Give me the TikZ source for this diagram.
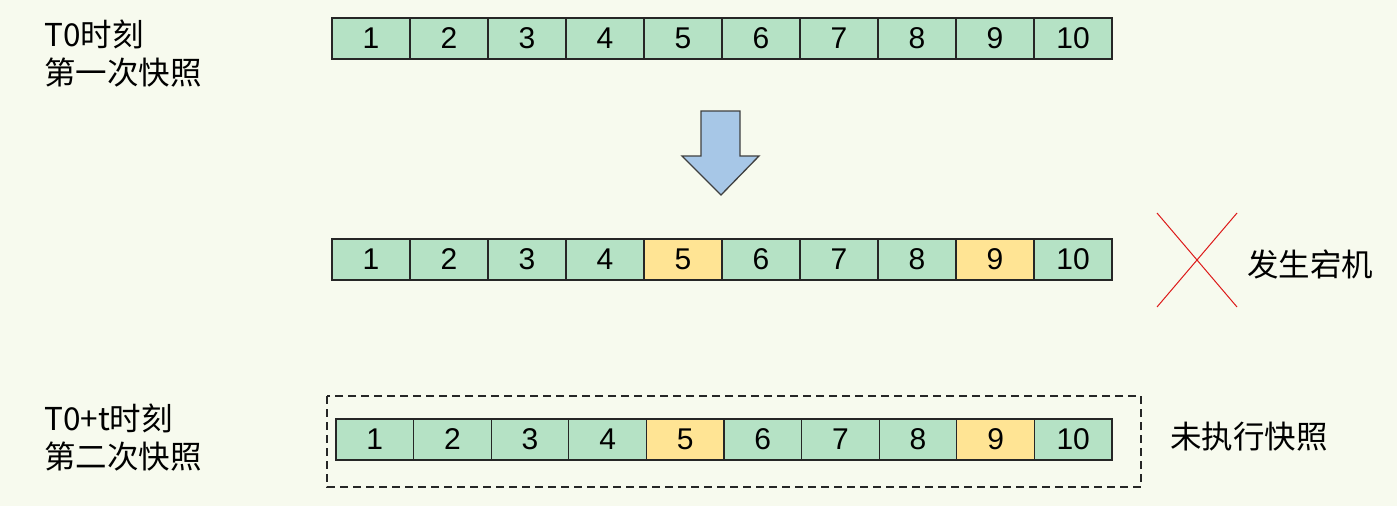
\documentclass[tikz,border=0pt]{standalone}
\usepackage{fontspec}
\setmainfont{Noto Sans CJK SC}
\newfontfamily\digitfont{Liberation Sans}
\begin{document}
\begin{tikzpicture}[x=1pt,y=-1pt,
  cell/.style={draw=black!85, line width=1.3pt, minimum width=78pt, minimum height=41pt,
    inner sep=0pt, outer sep=0pt, anchor=west, font=\digitfont\fontsize{30}{30}\selectfont},
  g/.style={cell, fill=cellgreen},
  yl/.style={cell, fill=cellyellow},
  lbl/.style={font=\fontsize{31.5}{38}\selectfont, align=left, inner sep=0pt, anchor=west}]
\definecolor{bg}{RGB}{247,250,238}
\definecolor{cellgreen}{RGB}{181,226,197}
\definecolor{cellyellow}{RGB}{255,228,148}
\definecolor{arrowblue}{RGB}{167,199,231}
\fill[bg] (0,0) rectangle (1397,506);
\useasboundingbox (0,0) rectangle (1397,506);
% row 1
\foreach \i in {1,...,10} {
  \node[g] (a\i) at ({332+78*(\i-1)},38.5) {\i};
}
% row 2
\foreach \i in {1,...,10} {
  \ifnum\i=5 \node[yl] (b\i) at ({332+78*(\i-1)},259.5) {\i};
  \else\ifnum\i=9 \node[yl] (b\i) at ({332+78*(\i-1)},259.5) {\i};
  \else \node[g] (b\i) at ({332+78*(\i-1)},259.5) {\i};\fi\fi
}
% row 3
\foreach \i in {1,...,10} {
  \ifnum\i=5 \node[yl, minimum width=77.6pt] (c\i) at ({336+77.6*(\i-1)},439.5) {\i};
  \else\ifnum\i=9 \node[yl, minimum width=77.6pt] (c\i) at ({336+77.6*(\i-1)},439.5) {\i};
  \else \node[g, minimum width=77.6pt] (c\i) at ({336+77.6*(\i-1)},439.5) {\i};\fi\fi
}
% dashed box
\draw[black!85, line width=1.5pt, dash pattern=on 8pt off 5pt] (327,396) rectangle (1141,487);
% big arrow
\draw[draw=black!75, line width=1.3pt, fill=arrowblue, line join=miter]
  (701,111) -- (740,111) -- (740,156) -- (759,156) -- (721,195) -- (682,156) -- (701,156) -- cycle;
% red cross
\coordinate (x1) at (1157,213); \coordinate (x2) at (1237,307);
\coordinate (x3) at (1237,213); \coordinate (x4) at (1157,307);
\draw[red!85!black!90, line width=1pt] (x1) -- (x2);
\draw[red!85!black!90, line width=1pt] (x3) -- (x4);
% labels
\node[lbl] (l1) at (44,54) {T0时刻\\第一次快照};
\node[lbl] (l2) at (1247,264) {发生宕机};
\node[lbl] (l3) at (44,438) {T0+t时刻\\第二次快照};
\node[lbl] (l4) at (1170,437) {未执行快照};
\end{tikzpicture}
\end{document}
